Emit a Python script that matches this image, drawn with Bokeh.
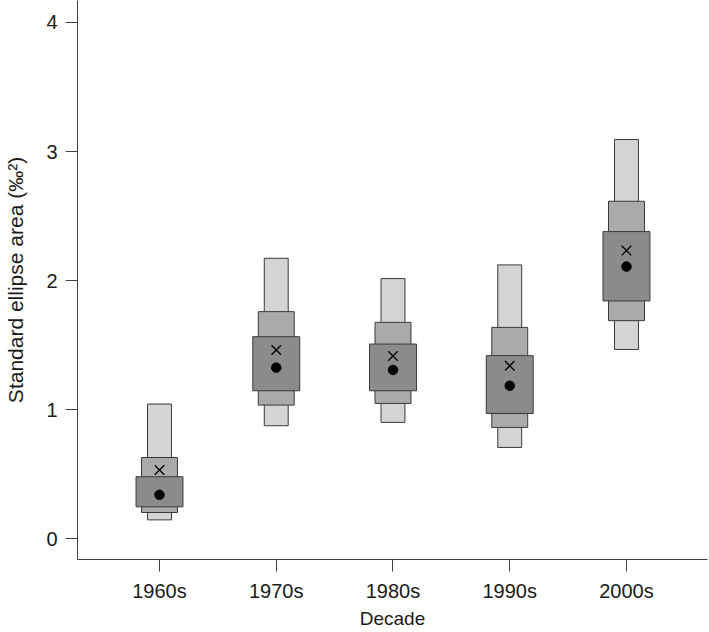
from bokeh.plotting import figure
from bokeh.models import Range1d, FixedTicker
from bokeh.embed import file_html
from bokeh.resources import INLINE

# ---- data ----
decades = ["1960s", "1970s", "1980s", "1990s", "2000s"]
# 95% credible interval (light)
ci95_low = [0.147, 0.876, 0.902, 0.708, 1.467]
ci95_high = [1.044, 2.173, 2.016, 2.122, 3.093]
# 75% credible interval (mid)
ci75_low = [0.204, 1.036, 1.049, 0.863, 1.690]
ci75_high = [0.630, 1.760, 1.677, 1.638, 2.615]
# 50% credible interval (dark)
ci50_low = [0.248, 1.147, 1.147, 0.971, 1.843]
ci50_high = [0.481, 1.566, 1.509, 1.419, 2.380]
# mode (dot) and sample SEA (x)
mode_vals = [0.341, 1.326, 1.308, 1.186, 2.109]
sea_vals = [0.533, 1.463, 1.416, 1.341, 2.233]
y_ticks = [0, 1, 2, 3, 4]

xs = list(range(1, len(decades) + 1))

FONT = "Liberation Sans"

p = figure(width=709, height=632, output_backend="svg", toolbar_location=None,
           x_range=Range1d(0.2976, 5.694), y_range=Range1d(-0.16, 4.17),
           min_border_left=77, min_border_right=2, min_border_top=0,
           min_border_bottom=73)
p.outline_line_color = None
p.xgrid.grid_line_color = None
p.ygrid.grid_line_color = None
p.background_fill_color = "white"

edge = "#3a3a3a"
p.vbar(x=xs, bottom=ci95_low, top=ci95_high, width=0.205,
       fill_color="#d4d4d4", line_color=edge, line_width=1)
p.vbar(x=xs, bottom=ci75_low, top=ci75_high, width=0.308,
       fill_color="#aaaaaa", line_color=edge, line_width=1)
p.vbar(x=xs, bottom=ci50_low, top=ci50_high, width=0.402,
       fill_color="#8b8b8b", line_color=edge, line_width=1)

p.scatter(x=xs, y=mode_vals, marker="circle", size=9.5,
          fill_color="black", line_color="black")
p.scatter(x=xs, y=sea_vals, marker="x", size=13.5,
          line_color="black", line_width=1.3)

# axes
for ax in (p.xaxis[0], p.yaxis[0]):
    ax.axis_line_color = "#404040"
    ax.axis_line_width = 1
    ax.major_tick_line_color = "#404040"
    ax.major_tick_out = 12
    ax.major_tick_in = 0
    ax.minor_tick_line_color = None
    ax.major_label_text_font = FONT
    ax.major_label_text_font_size = "20px"
    ax.major_label_text_color = "#1a1a1a"
    ax.axis_label_text_font = FONT
    ax.axis_label_text_font_style = "normal"
    ax.axis_label_text_color = "#1a1a1a"

p.xaxis.ticker = FixedTicker(ticks=xs)
p.xaxis.major_label_overrides = {x: d for x, d in zip(xs, decades)}
p.xaxis.major_label_standoff = 8
p.xaxis.axis_label = "Decade"
p.xaxis.axis_label_text_font_size = "19px"
p.xaxis.axis_label_standoff = 3

p.yaxis.ticker = FixedTicker(ticks=y_ticks)
p.yaxis.major_label_orientation = "horizontal"
p.yaxis.major_label_standoff = 8
p.yaxis.axis_label = "Standard ellipse area (\u2030\u00b2)"
p.yaxis.axis_label_text_font_size = "21px"
p.yaxis.axis_label_standoff = 16

open("out.html", "w").write(file_html(p, INLINE))
